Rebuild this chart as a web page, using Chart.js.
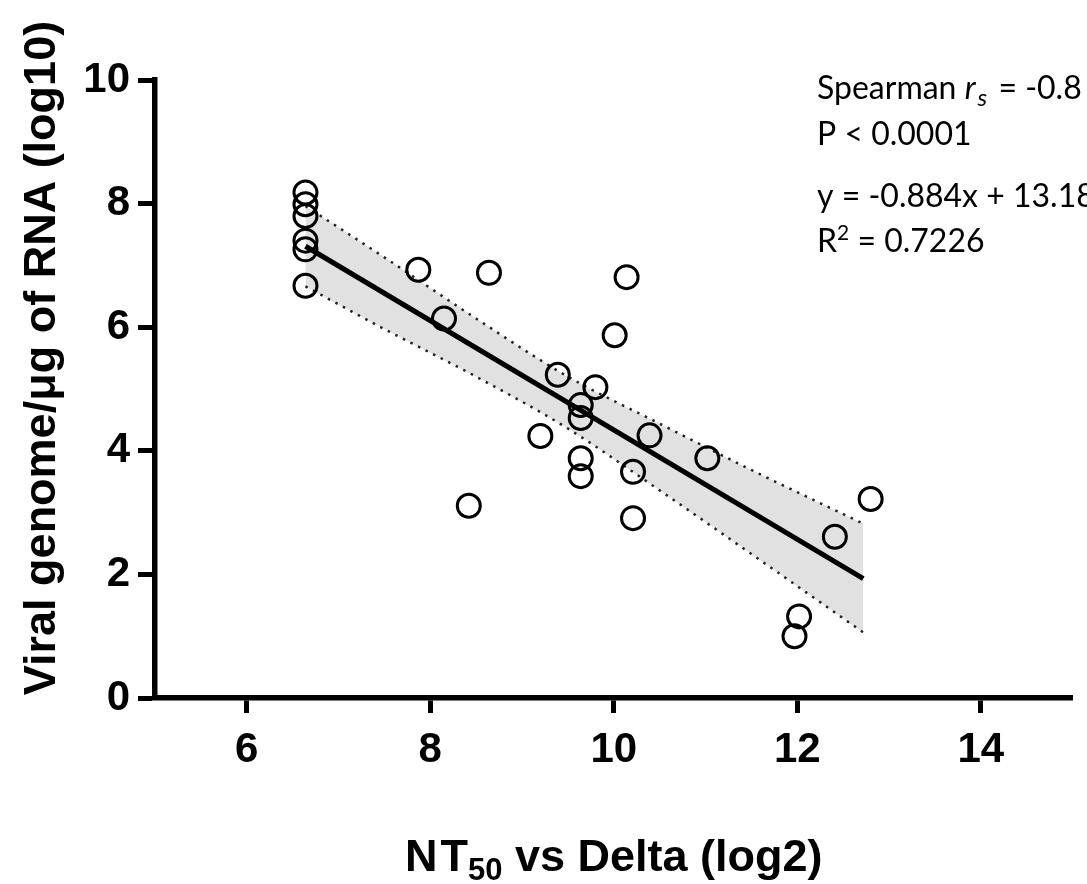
<!DOCTYPE html>
<html>
<head>
<meta charset="utf-8">
<title>NT50 vs Delta</title>
<script src="https://cdn.jsdelivr.net/npm/chart.js@4.4.1/dist/chart.umd.min.js"></script>
<style>
  html, body { margin: 0; padding: 0; background: #fff; overflow: hidden; }
  #chart { display: block; }
</style>
</head>
<body>
<canvas id="chart" width="1087" height="884"></canvas>
<script>
// axis ticks
const xTicks = [6, 8, 10, 12, 14];
const yTicks = [0, 2, 4, 6, 8, 10];

// NT50 vs Delta (log2) and viral genome (log10), one entry per animal
const ntValues = [
    6.64, 6.64, 6.64, 6.64, 6.64, 6.64,
    7.87, 8.64, 10.14, 8.15, 10.01, 9.39, 9.80,
    9.64, 9.64, 9.64, 9.64,
    10.39, 9.20, 10.21, 8.42, 10.21,
    11.02, 12.80, 12.41, 12.02, 11.97
];
const viralValues = [
    8.18, 7.99, 7.80, 7.40, 7.26, 6.67,
    6.93, 6.88, 6.81, 6.14, 5.87, 5.23, 5.03,
    4.74, 4.53, 3.88, 3.59,
    4.25, 4.24, 3.66, 3.11, 2.91,
    3.88, 3.22, 2.61, 1.32, 1.00
];

// regression line, read at its two ends
const fitX = [6.64, 12.72];
const fitY = [7.31, 1.93];

// confidence band (dotted curves)
const bandX = [6.64, 7.5, 8.5, 9.5, 10.5, 11.5, 12.72];
const bandUpper = [7.96, 7.13, 6.14, 5.20, 4.44, 3.69, 2.82];
const bandLower = [6.66, 5.97, 5.20, 4.36, 3.36, 2.33, 1.06];

const yTitle = 'Viral genome/\u03bcg of RNA (log10)';
const xTitle = ['N', 'T', '50', ' vs Delta (log2)'];

const BOLD = '"Liberation Sans", Arial, sans-serif';
const NOTE = 'Lato, "Open Sans", sans-serif';

const toPoints = (xs, ys) => xs.map((x, i) => ({ x: x, y: ys[i] }));

// draws a row of text pieces, each with its own font and vertical shift
function drawPieces(ctx, x, y, pieces) {
    let cx = x;
    pieces.forEach(p => {
        ctx.font = p.font;
        ctx.fillText(p.text, cx, y + (p.dy || 0));
        cx += ctx.measureText(p.text).width + (p.gap || 0);
    });
}

function piecesWidth(ctx, pieces) {
    let w = 0;
    pieces.forEach(p => {
        ctx.font = p.font;
        w += ctx.measureText(p.text).width + (p.gap || 0);
    });
    return w;
}

const textPlugin = {
    id: 'figureText',
    afterDraw(chart) {
        const ctx = chart.ctx;
        const area = chart.chartArea;

        ctx.save();
        ctx.fillStyle = '#000';
        ctx.textBaseline = 'alphabetic';

        // y title, rotated
        ctx.save();
        ctx.translate(55, 358);
        ctx.rotate(-Math.PI / 2);
        ctx.textAlign = 'center';
        ctx.font = 'bold 45px ' + BOLD;
        ctx.fillText(yTitle, 0, 0);
        ctx.restore();

        // x title with subscript
        ctx.textAlign = 'left';
        const xPieces = [
            { text: xTitle[0], font: 'bold 45px ' + BOLD, gap: 3 },
            { text: xTitle[1], font: 'bold 45px ' + BOLD },
            { text: xTitle[2], font: 'bold 31px ' + BOLD, dy: 9 },
            { text: xTitle[3], font: 'bold 45px ' + BOLD }
        ];
        const xw = piecesWidth(ctx, xPieces);
        drawPieces(ctx, (area.left + area.right) / 2 - xw / 2, 871, xPieces);

        // statistics note, top right
        const reg = '32px ' + NOTE;
        const ital = 'italic 32px ' + NOTE;
        drawPieces(ctx, 817, 99, [
            { text: 'Spearman ', font: reg },
            { text: 'r', font: ital, gap: 2 },
            { text: 's', font: 'italic 24px ' + NOTE, dy: 7, gap: 3 },
            { text: ' = -0.8', font: reg }
        ]);
        drawPieces(ctx, 817, 145, [{ text: 'P < 0.0001', font: reg }]);
        drawPieces(ctx, 817, 207, [{ text: 'y = -0.884x + 13.18', font: reg }]);
        drawPieces(ctx, 817, 252, [
            { text: 'R', font: reg },
            { text: '2', font: '21px ' + NOTE, dy: -12 },
            { text: ' = 0.7226', font: reg }
        ]);
        ctx.restore();
    }
};

const dotted = {
    type: 'line',
    borderColor: '#222',
    borderWidth: 2.5,
    borderDash: [2.5, 6],
    pointRadius: 0,
    cubicInterpolationMode: 'monotone'
};

new Chart(document.getElementById('chart'), {
    type: 'scatter',
    data: {
        datasets: [
            Object.assign({}, dotted, {
                label: 'upper',
                data: toPoints(bandX, bandUpper),
                fill: false,
                order: 3
            }),
            Object.assign({}, dotted, {
                label: 'lower',
                data: toPoints(bandX, bandLower),
                fill: '-1',
                backgroundColor: '#e1e1e1',
                order: 2
            }),
            {
                type: 'line',
                label: 'fit',
                data: toPoints(fitX, fitY),
                borderColor: '#000',
                borderWidth: 5,
                pointRadius: 0,
                order: 1
            },
            {
                label: 'animals',
                data: toPoints(ntValues, viralValues),
                pointRadius: 11.5,
                borderWidth: 3,
                borderColor: '#000',
                backgroundColor: 'rgba(0,0,0,0)',
                order: 0
            }
        ]
    },
    options: {
        responsive: false,
        devicePixelRatio: 1,
        animation: false,
        layout: { padding: { top: 80, right: 2, left: 0, bottom: 0 } },
        plugins: {
            legend: { display: false },
            tooltip: { enabled: false },
            filler: { drawTime: 'beforeDatasetsDraw' }
        },
        scales: {
            x: {
                type: 'linear',
                min: 5,
                max: 15,
                afterBuildTicks: s => { s.ticks = xTicks.map(v => ({ value: v })); },
                afterFit: s => { s.height = 186; },
                grid: { drawOnChartArea: false, tickLength: 15, tickWidth: 5, tickColor: '#000' },
                border: { width: 5.5, color: '#000' },
                ticks: { color: '#000', padding: 12, font: { family: BOLD, size: 42, weight: 'bold' } }
            },
            y: {
                type: 'linear',
                min: 0,
                max: 10,
                afterBuildTicks: s => { s.ticks = yTicks.map(v => ({ value: v })); },
                afterFit: s => { s.width = 155; },
                grid: { drawOnChartArea: false, tickLength: 17, tickWidth: 5, tickColor: '#000' },
                border: { width: 5.5, color: '#000' },
                ticks: { color: '#000', padding: 8, font: { family: BOLD, size: 42, weight: 'bold' } }
            }
        }
    },
    plugins: [textPlugin]
});
</script>
</body>
</html>
